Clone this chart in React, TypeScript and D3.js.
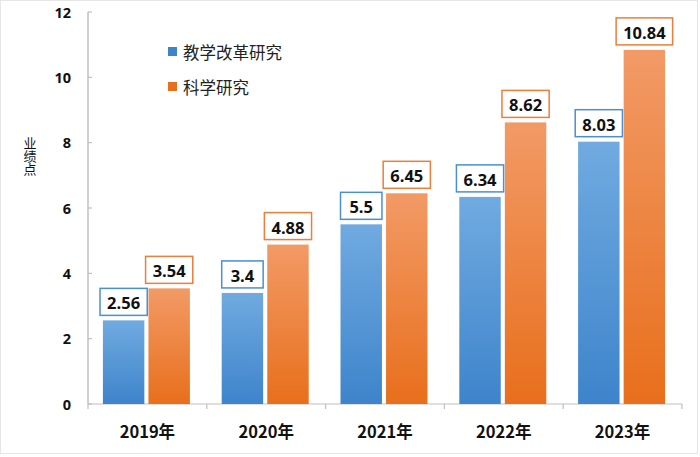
import React from "react";
import * as d3 from "d3";

const categories = ["2019年", "2020年", "2021年", "2022年", "2023年"];
const seriesNames = ["教学改革研究", "科学研究"];
const teachingValues = [2.56, 3.4, 5.5, 6.34, 8.03];
const researchValues = [3.54, 4.88, 6.45, 8.62, 10.84];
const yTicks = [0, 2, 4, 6, 8, 10, 12];
const axisTitle = "业绩点";

const W = 700;
const H = 457;
const left = 88;
const right = 682;
const top = 12;
const bottom = 404;

const colors = [
  { top: "#70aae0", bottom: "#3e84cb", stroke: "#4a8fd4" },
  { top: "#f29a66", bottom: "#e86f1c", stroke: "#ee7d3a" },
];

export default function App() {
  const x = d3.scaleBand<string>().domain(categories).range([left, right]).paddingInner(0).paddingOuter(0);
  const y = d3.scaleLinear().domain([0, 12]).range([bottom, top]);
  const inner = d3.scaleBand<number>().domain([0, 1]).range([0, 87]).paddingInner(0.09);
  const groupOffset = (x.bandwidth() - 87) / 2 - 1;
  const series = [teachingValues, researchValues];
  const textFont = "'Open Sans', 'Liberation Sans', sans-serif";
  const cjk = "'Noto Sans CJK SC', sans-serif";

  return (
    <svg width={W} height={H} style={{ position: "absolute", left: 0, top: 0, background: "#fff" }}>
      <defs>
        {colors.map((c, i) => (
          <linearGradient key={i} id={`g${i}`} x1="0" y1="0" x2="0" y2="1">
            <stop offset="0%" stopColor={c.top} />
            <stop offset="100%" stopColor={c.bottom} />
          </linearGradient>
        ))}
      </defs>
      <rect x={0.5} y={0.5} width={W - 3} height={H - 4} fill="#fff" stroke="#e6e6e6" />
      {/* y axis */}
      <line x1={left} x2={left} y1={top} y2={bottom} stroke="#bfbfbf" strokeWidth={1.5} />
      {yTicks.map((t) => (
        <g key={t}>
          <line x1={left} x2={left + 4} y1={y(t)} y2={y(t)} stroke="#bfbfbf" strokeWidth={1.2} />
          <text x={71} y={y(t)} textAnchor="end" dominantBaseline="central" fontFamily={textFont} fontWeight="bold" fontSize={14.5} fill="#111">
            {t}
          </text>
        </g>
      ))}
      {/* x axis */}
      <line x1={left} x2={right} y1={bottom} y2={bottom} stroke="#bfbfbf" strokeWidth={1.2} />
      {[...categories.map((c) => x(c)!), right].map((v, i) => (
        <line key={i} x1={v} x2={v} y1={bottom} y2={bottom + 5} stroke="#bfbfbf" strokeWidth={1.2} />
      ))}
      {categories.map((c) => (
        <text key={c} x={x(c)! + x.bandwidth() / 2} y={431} textAnchor="middle" dominantBaseline="central" fontFamily={cjk} fontWeight="bold" fontSize={16.5} fill="#111">
          {c}
        </text>
      ))}
      {/* axis title, vertical with upright characters */}
      <text
        x={30}
        y={137}
        fontFamily={cjk}
        fontSize={13}
        fill="#111"
        glyphOrientationVertical="0"
        style={{ writingMode: "vertical-rl", textOrientation: "upright" } as React.CSSProperties}
      >
        {axisTitle}
      </text>
      {/* bars */}
      {series.map((vals, si) =>
        vals.map((v, ci) => {
          const bx = x(categories[ci])! + groupOffset + inner(si)!;
          const bw = inner.bandwidth();
          const by = y(v);
          const label = String(v);
          const textW = label.length * 9.3 + 10;
          const boxW = Math.max(bw, textW);
          const boxX = bx + bw / 2 - boxW / 2;
          const boxH = 27;
          const boxY = by - 5 - boxH;
          return (
            <g key={`${si}-${ci}`}>
              <rect x={bx} y={by} width={bw} height={bottom - by} fill={`url(#g${si})`} />
              <rect x={boxX} y={boxY} width={boxW} height={boxH} fill="#fff" stroke={colors[si].stroke} strokeWidth={1.5} />
              <text x={bx + bw / 2} y={boxY + boxH / 2 + 1} textAnchor="middle" dominantBaseline="central" fontFamily={textFont} fontWeight="bold" fontSize={16.5} fill="#111">
                {label}
              </text>
            </g>
          );
        })
      )}
      {/* legend */}
      {seriesNames.map((n, i) => (
        <g key={n}>
          <rect x={168} y={47 + i * 35} width={9} height={9} fill={colors[i].bottom} />
          <text x={183} y={52 + i * 35} dominantBaseline="central" fontFamily={cjk} fontSize={16.5} fill="#222">
            {n}
          </text>
        </g>
      ))}
    </svg>
  );
}
